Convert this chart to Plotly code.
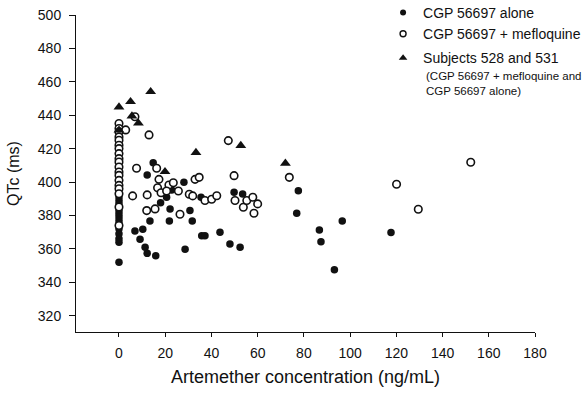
import plotly.graph_objects as go

# ---- data ----
alone_x = [0]*13 + [14.8, 12.2, 18.0, 20.6, 22.8, 28.1, 35.5, 22.1, 30.7, 13.4, 21.8, 31.7, 6.9, 10.3,
                    9.1, 11.3, 12.2, 15.9, 28.6, 35.8, 37.2, 43.7, 48.0, 52.4, 49.8, 53.5, 77.6, 76.9,
                    86.7, 87.4, 93.2, 96.6, 117.7]
alone_y = [391, 389, 387, 383, 381, 379, 377, 375, 372, 369, 366, 364, 352,
           411.6, 404.2, 387.6, 390.9, 395.2, 399.9, 390.9, 383.9, 382.9, 376.7, 376.7, 376.7, 370.7, 371.7,
           365.7, 361.0, 357.3, 355.9, 359.7, 367.9, 367.9, 369.9, 362.9, 361.0, 393.9, 392.8, 394.8, 381.3,
           371.3, 364.3, 347.4, 376.7, 369.7]

meflo_x = [0]*19 + [2.9, 13.0, 6.9, 7.6, 16.3, 17.3, 21.6, 23.5, 16.7, 18.2, 20.6, 25.7, 5.9, 12.2, 30.4,
                    32.9, 34.7, 31.9, 37.2, 12.0, 15.6, 26.4, 47.3, 49.8, 40.1, 42.3, 50.2, 53.8, 55.3,
                    57.9, 60.0, 58.4, 73.7, 120.1, 129.5, 152.2]
meflo_y = [435, 432, 430, 427, 425, 422, 420, 417, 414, 412, 409, 406, 404, 401, 398, 396, 393, 385, 374,
           431.2, 428.2, 439.1, 408.2, 408.2, 401.6, 398.2, 399.6, 396.6, 393.6, 394.6, 394.6, 391.7, 392.3,
           392.7, 401.6, 402.8, 391.7, 388.9, 382.9, 383.9, 380.7, 424.8, 403.8, 389.7, 391.8, 388.9, 384.9,
           388.9, 390.9, 386.9, 381.3, 402.8, 398.7, 383.7, 411.8]

subj_x = [0, 5.0, 13.7, 5.6, 8.4, 0, 19.9, 33.3, 52.7, 72.0]
subj_y = [444.9, 448.1, 454.1, 439.5, 435.2, 431.0, 406.2, 417.6, 421.8, 411.2]

x_ticks = [0, 20, 40, 60, 80, 100, 120, 140, 160, 180]
y_ticks = [320, 340, 360, 380, 400, 420, 440, 460, 480, 500]

names = ["CGP 56697 alone", "CGP 56697 + mefloquine", "Subjects 528 and 531"]
subnote = "(CGP 56697 + mefloquine and<br>CGP 56697 alone)"

FONT = "Liberation Sans, Arial, sans-serif"
INK = "#111111"

m_alone = dict(symbol="circle", size=7.5, color=INK, line=dict(width=0))
m_meflo = dict(symbol="circle", size=7.5, color="white", line=dict(width=1.6, color=INK))
m_subj = dict(symbol="triangle-up", size=9.5, color=INK, line=dict(width=0))

fig = go.Figure()
fig.add_trace(go.Scatter(x=alone_x, y=alone_y, mode="markers", showlegend=False, marker=m_alone))
fig.add_trace(go.Scatter(x=meflo_x, y=meflo_y, mode="markers", showlegend=False, marker=m_meflo))
fig.add_trace(go.Scatter(x=subj_x, y=subj_y, mode="markers", showlegend=False, marker=m_subj))

# legend-only entries (smaller symbols, as in the reference key)
fig.add_trace(go.Scatter(x=[None], y=[None], mode="markers", name=names[0], legendgroup="a",
                         marker=dict(symbol="circle", size=6, color=INK, line=dict(width=0))))
fig.add_trace(go.Scatter(x=[None], y=[None], mode="markers", name=names[1], legendgroup="a",
                         marker=dict(symbol="circle", size=6, color="white", line=dict(width=1.4, color=INK))))
fig.add_trace(go.Scatter(x=[None], y=[None], mode="markers", name=names[2], legendgroup="b",
                         marker=dict(symbol="triangle-up", size=7.5, color=INK, line=dict(width=0))))

fig.update_layout(
    width=586, height=396,
    margin=dict(l=76, r=51, t=15, b=64, autoexpand=False),
    paper_bgcolor="white", plot_bgcolor="white",
    font=dict(family=FONT, size=14, color=INK),
    legend=dict(x=0.669, y=1.057, xanchor="left", yanchor="top", bgcolor="rgba(0,0,0,0)",
                font=dict(size=14), traceorder="grouped", tracegroupgap=3, valign="middle",
                itemwidth=30),
    annotations=[dict(text=subnote, xref="paper", yref="paper",
                      x=0.759, y=0.834, xanchor="left", yanchor="top", showarrow=False, align="left",
                      font=dict(size=11.5, family=FONT, color=INK))],
)
fig.update_xaxes(range=[-18.6, 180], tickvals=x_ticks, ticks="outside", ticklen=4, tickwidth=1,
                 tickcolor=INK, showline=True, linecolor=INK, linewidth=1, showgrid=False, zeroline=False,
                 ticklabelstandoff=4,
                 title=dict(text="Artemether concentration (ng/mL)", font=dict(size=18), standoff=10),
                 tickfont=dict(size=14))
fig.update_yaxes(range=[310.2, 500], tickvals=y_ticks, ticks="outside", ticklen=6, tickwidth=1,
                 tickcolor=INK, showline=True, linecolor=INK, linewidth=1, showgrid=False, zeroline=False,
                 ticklabelstandoff=5,
                 title=dict(text="QTc (ms)", font=dict(size=16), standoff=14),
                 tickfont=dict(size=14))

fig.write_html("out.html")
